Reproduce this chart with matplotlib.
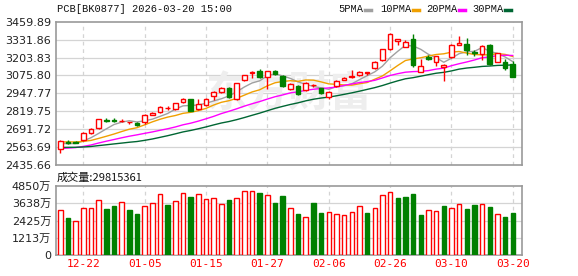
import numpy as np
import pandas as pd
import matplotlib
matplotlib.use('Agg')
import matplotlib.pyplot as plt
from matplotlib.lines import Line2D


dates = ['12-22', '01-05', '01-15', '01-27', '02-06', '02-26', '03-10', '03-20']
date_index = [3, 11, 19, 27, 35, 43, 51, 59]

# closes before the window, only used to warm up the moving averages
prior_closes = [2560, 2590, 2600, 2585, 2570, 2580, 2565, 2575, 2560, 2565,
                2540, 2520, 2500, 2490, 2480, 2495, 2510, 2505, 2515, 2525,
                2580, 2605, 2620, 2625, 2620, 2600, 2590, 2575, 2576]

opens = [2547, 2598, 2601, 2614, 2666, 2697, 2756, 2757, 2748, 2740,
         2737, 2744, 2793, 2812, 2840, 2835, 2888, 2907, 2833, 2862,
         2931, 2955, 2986, 2905, 3041, 3091, 3107, 3066, 3107, 3074,
         2976, 2999, 2971, 3004, 2983, 2919, 2999, 3043, 3062, 3076,
         3096, 3127, 3186, 3262, 3322, 3281, 3336, 3102, 3208, 3174,
         3138, 3205, 3294, 3300, 3241, 3227, 3293, 3174, 3174, 3155]
closes = [2609, 2590, 2596, 2666, 2692, 2763, 2753, 2750, 2752, 2743,
          2719, 2793, 2809, 2852, 2846, 2876, 2909, 2823, 2869, 2907,
          2959, 2988, 2924, 3019, 3076, 3102, 3066, 3107, 3086, 3000,
          3014, 2940, 3024, 3007, 2952, 2959, 3036, 3059, 3072, 3102,
          3100, 3174, 3262, 3372, 3334, 3313, 3150, 3143, 3193, 3214,
          3150, 3293, 3307, 3257, 3234, 3286, 3155, 3234, 3131, 3066]
highs = [2612, 2612, 2606, 2670, 2698, 2766, 2772, 2772, 2768, 2746,
         2742, 2797, 2815, 2856, 2856, 2880, 2916, 2910, 2907, 2912,
         2962, 2992, 2990, 3022, 3080, 3106, 3120, 3110, 3112, 3080,
         3020, 3004, 3028, 3018, 2988, 2964, 3040, 3062, 3114, 3106,
         3103, 3178, 3266, 3376, 3338, 3330, 3372, 3190, 3225, 3218,
         3158, 3297, 3360, 3340, 3260, 3290, 3300, 3238, 3190, 3180]
lows = [2523, 2583, 2590, 2608, 2660, 2694, 2740, 2742, 2744, 2730,
        2714, 2728, 2790, 2808, 2830, 2830, 2880, 2820, 2828, 2858,
        2900, 2952, 2915, 2900, 3036, 3060, 3060, 2976, 3080, 2994,
        2970, 2935, 2966, 2996, 2945, 2905, 2995, 3040, 3058, 3072,
        3078, 3120, 3180, 3258, 3292, 3276, 3136, 3098, 3183, 3145,
        3036, 3200, 3290, 3225, 3218, 3185, 3150, 3170, 3115, 3062]
# volume in 万 shares
volumes = [3163, 2601, 2390, 3280, 3280, 3866, 3233, 3444, 3725, 3163,
           2882, 3444, 3655, 4264, 3514, 3796, 4358, 4077, 4288, 3913,
           3983, 3561, 3866, 3983, 4499, 4499, 4381, 4217, 3678, 4147,
           3280, 2882, 2648, 3678, 2952, 3022, 2858, 2788, 3022, 3421,
           2952, 3304, 4194, 4428, 4007, 4077, 4288, 2812, 3140, 3093,
           3444, 3304, 3561, 3233, 3514, 3561, 3374, 2858, 2671, 2982]

price_ticks = [3459.89, 3331.86, 3203.83, 3075.80, 2947.77, 2819.75, 2691.72, 2563.69, 2435.66]
volume_ticks = [0, 1212.5, 2425, 3637.5, 4850]
volume_tick_labels = ['0', '1213万', '2425万', '3638万', '4850万']

ma_names = ['5PMA', '10PMA', '20PMA', '30PMA']
ma_windows = [5, 10, 20, 30]
ma_colors = ['#a0a0a0', '#f0a000', '#ff00ff', '#006633']

red = '#ff0000'
green = '#008000'
grid_color = '#d4d4d4'
frame_color = '#999999'

plt.rcParams['font.family'] = ['DejaVu Sans', 'Noto Sans CJK SC']

n = len(closes)
x = np.arange(n)
o = np.array(opens, dtype=float)
c = np.array(closes, dtype=float)
up = c >= o
all_closes = pd.Series(prior_closes + closes, dtype=float)
prev_close = all_closes.shift(1).values[len(prior_closes):]
vol_up = c >= prev_close

fig = plt.figure(figsize=(5.78, 2.76), dpi=100)
ax = fig.add_axes([56 / 578, 1 - 165 / 276, 466 / 578, 143.3 / 276])
axv = fig.add_axes([56 / 578, 1 - 255 / 276, 466 / 578, 69 / 276])

xlim = (-0.56, 60.2)

for a in (ax, axv):
    a.set_xlim(*xlim)
    for s in a.spines.values():
        s.set_color(frame_color)
        s.set_linewidth(1.2)
    for xi in date_index:
        a.axvline(xi, color=grid_color, lw=0.9, ls=(0, (3, 3)), zorder=0)
    a.tick_params(length=0)

# price panel
ax.set_ylim(2435.66, 3459.89)
ax.set_yticks(price_ticks)
ax.set_yticklabels([f'{t:.2f}' for t in price_ticks], fontsize=8, color='#222222')
for t in price_ticks[1:-1]:
    ax.axhline(t, color=grid_color, lw=0.9, zorder=0)
ax.set_xticks([])

ax.text(0.5, 0.5, '东方财富', transform=ax.transAxes, fontsize=30, color='#eeeeee',
        family=['Noto Sans CJK SC'], fontweight='bold', ha='center', va='center', zorder=0)

for w, col in zip(ma_windows, ma_colors):
    ma = all_closes.rolling(w).mean().values[len(prior_closes):]
    ax.plot(x, ma, color=col, lw=1, zorder=2)

body_w = 0.6
for i in range(n):
    col = red if up[i] else green
    lo, hi = min(o[i], c[i]), max(o[i], c[i])
    if hi - lo < 3:
        hi = lo + 3
    ax.vlines(x[i], lows[i], lo, color=col, lw=1, zorder=3)
    ax.vlines(x[i], hi, highs[i], color=col, lw=1, zorder=3)
    ax.bar(x[i], hi - lo, bottom=lo, width=body_w, color='white' if up[i] else green,
           edgecolor=col, linewidth=1, zorder=4)

# volume panel
axv.set_ylim(0, 4850)
axv.set_yticks(volume_ticks)
axv.set_yticklabels(volume_tick_labels, fontsize=8, color='#222222')
for t in volume_ticks[1:-1]:
    axv.axhline(t, color=grid_color, lw=0.9, zorder=0)
axv.set_xticks(date_index)
axv.set_xticklabels(dates, fontsize=8, color=red, family=['DejaVu Sans Mono'])
axv.tick_params(axis='x', pad=3)
axv.bar(x, volumes, width=0.58, color=['white' if u else green for u in vol_up],
        edgecolor=[red if u else green for u in vol_up], linewidth=1, zorder=3)

# header texts
fig.text(57 / 578, 1 - 9 / 276, 'PCB[BK0877] 2026-03-20 15:00', fontsize=7.5,
         family=['Liberation Mono'], va='center', ha='left', color='#111111')
fig.text(57 / 578, 1 - 177.5 / 276, '成交量:29815361', fontsize=8,
         family=['Noto Sans CJK SC', 'DejaVu Sans'], va='center', ha='left', color='#111111')

legend_x = [338, 380, 426, 472]
dash_x = [365, 413, 459, 505]
for name, col, lx, dx in zip(ma_names, ma_colors, legend_x, dash_x):
    fig.text(lx / 578, 1 - 9 / 276, name, fontsize=7.5, family=['Liberation Mono'],
             va='center', ha='left', color='#111111')
    fig.add_artist(Line2D([dx / 578, (dx + 6) / 578], [1 - 9.5 / 276, 1 - 9.5 / 276],
                          color=col, lw=2.5, transform=fig.transFigure))

fig.savefig('out.png', dpi=100)
